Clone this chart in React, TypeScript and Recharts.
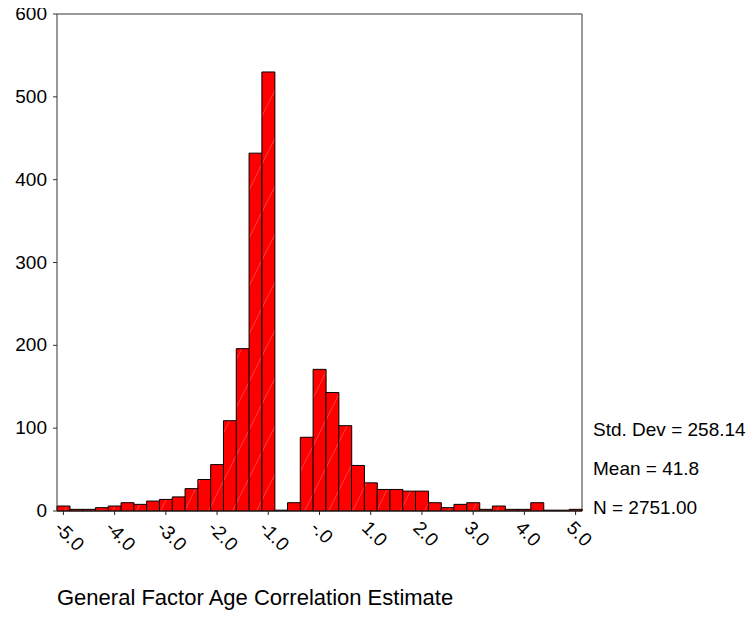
import React from "react";
import { BarChart, Bar, XAxis, YAxis, CartesianGrid, ReferenceLine } from "recharts";

// bin centres (width 0.25) and counts
const binCenters = [
  "-5.00", "-4.75", "-4.50", "-4.25", "-4.00", "-3.75", "-3.50", "-3.25", "-3.00", "-2.75",
  "-2.50", "-2.25", "-2.00", "-1.75", "-1.50", "-1.25", "-1.00", "-0.75", "-0.50", "-0.25",
  "0.00", "0.25", "0.50", "0.75", "1.00", "1.25", "1.50", "1.75", "2.00", "2.25",
  "2.50", "2.75", "3.00", "3.25", "3.50", "3.75", "4.00", "4.25", "4.50", "4.75", "5.00",
];
const counts = [
  6, 2, 2, 4, 6, 10, 8, 12, 14, 17,
  27, 38, 56, 109, 196, 432, 530, 1, 10, 89,
  171, 143, 103, 55, 34, 26, 26, 24, 24, 10,
  4, 8, 10, 2, 6, 2, 2, 10, 1, 1, 2,
];
const tickValues = ["-5.00", "-4.00", "-3.00", "-2.00", "-1.00", "0.00", "1.00", "2.00", "3.00", "4.00", "5.00"];
const tickLabels = ["-5.0", "-4.0", "-3.0", "-2.0", "-1.0", "-.0", "1.0", "2.0", "3.0", "4.0", "5.0"];
const yTicks = [0, 100, 200, 300, 400, 500, 600];
const stats = ["Std. Dev = 258.14", "Mean = 41.8", "N = 2751.00"];
const title = "General Factor Age Correlation Estimate";

const font = "'Liberation Sans', Arial, sans-serif";

const data = binCenters.map((b, i) => ({ bin: b, count: counts[i] }));

const RotatedTick = (props: any) => {
  const { x, y, payload } = props;
  const idx = tickValues.indexOf(payload.value);
  if (idx < 0) return null;
  const ax = x - 10;
  const ay = y + 12;
  return (
    <text
      x={ax}
      y={ay}
      transform={`rotate(45, ${ax}, ${ay})`}
      textAnchor="start"
      fontSize={19}
      fontFamily={font}
      fill="#000"
    >
      {tickLabels[idx]}
    </text>
  );
};

const YTick = (props: any) => {
  const { x, y, payload } = props;
  return (
    <text x={x} y={y} dy={6} textAnchor="end" fontSize={19} fontFamily={font} fill="#000">
      {payload.value}
    </text>
  );
};

export default function App() {
  return (
    <div style={{ position: "relative", width: 739, height: 616, marginTop: -8, fontFamily: font }}>
      <BarChart
        width={739}
        height={616}
        data={data}
        barCategoryGap={0}
        margin={{ top: 14, right: 165, left: 0, bottom: 45 }}
      >
        <defs>
          {/* faint diagonal hatching seen inside the bars */}
          <pattern id="hatch" patternUnits="userSpaceOnUse" width="24" height="48">
            <rect width="24" height="48" fill="#ff0000" />
            <line x1="0" y1="48" x2="24" y2="0" stroke="#ff6a6a" strokeWidth="0.6" />
          </pattern>
        </defs>
        {/* right edge of the plot box */}
        <CartesianGrid horizontal={false} verticalPoints={[574]} stroke="#777" strokeWidth={1.5} />
        <XAxis
          dataKey="bin"
          interval={3}
          tickSize={4}
          height={60}
          stroke="#222"
          tick={<RotatedTick />}
        />
        <YAxis
          domain={[0, 600]}
          ticks={yTicks}
          width={49}
          tickSize={4}
          tickMargin={6}
          stroke="#333"
          tick={<YTick />}
        />
        <ReferenceLine y={600} stroke="#777" strokeWidth={1.5} />
        <Bar dataKey="count" fill="url(#hatch)" stroke="#000" strokeWidth={1} isAnimationActive={false} />
      </BarChart>
      {stats.map((s, i) => (
        <div
          key={s}
          style={{ position: "absolute", left: 585, top: 419 + i * 39, fontSize: 19, color: "#000", whiteSpace: "nowrap" }}
        >
          {s}
        </div>
      ))}
      <div style={{ position: "absolute", left: 49, top: 585, fontSize: 22, color: "#000", whiteSpace: "nowrap" }}>
        {title}
      </div>
    </div>
  );
}
